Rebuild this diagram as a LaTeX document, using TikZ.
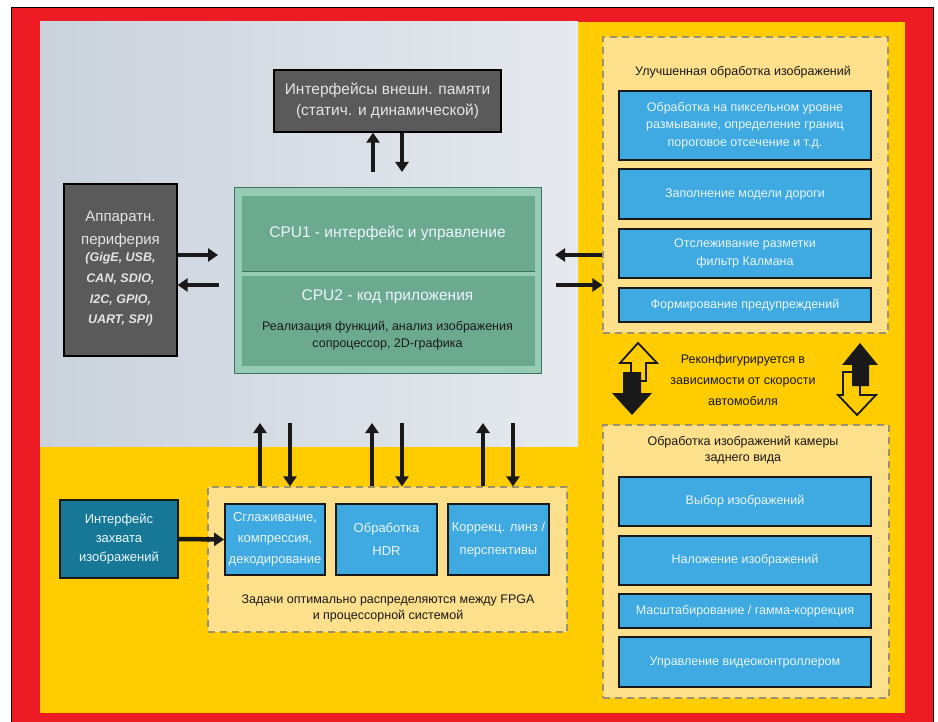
\documentclass[tikz,border=0pt]{standalone}
\usepackage{fontspec}
\setmainfont{Liberation Sans}
\usetikzlibrary{arrows.meta}
\definecolor{frameRed}{RGB}{237,28,36}
\definecolor{bgYellow}{RGB}{255,204,0}
\definecolor{panelFill}{RGB}{253,224,140}
\definecolor{panelLine}{RGB}{160,145,110}
\definecolor{boxBlue}{RGB}{62,170,225}
\definecolor{capTeal}{RGB}{22,120,150}
\definecolor{darkGray}{RGB}{90,90,90}
\definecolor{cpuGreen}{RGB}{108,170,144}
\definecolor{cpuLight}{RGB}{150,204,180}
\definecolor{cpuDark}{RGB}{60,115,92}
\definecolor{bgLeft}{RGB}{202,210,220}
\definecolor{bgMid}{RGB}{240,243,246}
\definecolor{bgRight}{RGB}{230,234,239}
\definecolor{inkDark}{RGB}{25,25,25}
\definecolor{lightText}{RGB}{228,228,228}
\definecolor{blueText}{RGB}{235,245,252}
\begin{document}
\begin{tikzpicture}[x=1pt,y=-1pt,
  grayBox/.style={draw=black,line width=1.3pt,fill=darkGray,text=lightText,align=center,inner sep=0pt},
  blueBox/.style={draw=inkDark,line width=1.8pt,fill=boxBlue,text=blueText,align=center,inner sep=0pt,font=\fontsize{12.5}{17.5}\selectfont},
  panel/.style={draw=panelLine,fill=panelFill,line width=1.2pt,dash pattern=on 7pt off 5pt,inner sep=0pt},
  arr/.style={draw=inkDark,line width=4.5pt,-{Triangle[width=13pt,length=10pt]}},
  darkText/.style={text=inkDark,align=center,font=\fontsize{12.5}{21}\selectfont},
  hollowArrow/.style={fill=bgYellow,draw=inkDark,line width=1.8pt,line join=miter},
  solidArrow/.style={fill=inkDark},
]
\useasboundingbox (0,0) rectangle (938,722);
\fill[white] (0,0) rectangle (938,722);
\fill[frameRed] (11,8) rectangle (933,722);
\draw[black,line width=1pt] (11,722) -- (11,8) -- (933,8) -- (933,722);
\fill[bgYellow] (40,22) rectangle (905,713);
\shade[left color=bgLeft,middle color=bgMid,right color=bgRight] (40,22) rectangle (578,446);

% memory interface
\node[grayBox,minimum width=227pt,minimum height=62pt,font=\fontsize{15.5}{21}\selectfont] (mem) at (387.5,101) {Интерфейсы внешн. памяти\\(статич. и динамической)};

% peripherals
\node[grayBox,minimum width=113pt,minimum height=172pt] (per) at (120.5,270) {};
\node[text=lightText,align=center,font=\fontsize{15}{23}\selectfont] (pert) at (120.5,229.5) {Аппаратн.\\периферия};
\node[text=lightText,align=center,font=\fontsize{12.5}{20.7}\selectfont\bfseries\itshape] (perl) at (120.5,289.5) {(GigE, USB,\\CAN, SDIO,\\I2C, GPIO,\\UART, SPI)};

% CPU block
\node[draw=cpuDark,line width=1pt,fill=cpuLight,minimum width=307pt,minimum height=185pt,inner sep=0pt] (cpu) at (387.5,280.5) {};
\fill[cpuGreen] (242,196) rectangle (535,271);
\fill[cpuGreen] (242,276) rectangle (535,366);
\draw[cpuDark,line width=0.8pt] (242,271.5) -- (535,271.5);
\node[text=blueText,font=\fontsize{15.5}{19}\selectfont] (c1) at (387.5,233) {CPU1 - интерфейс и управление};
\node[text=blueText,font=\fontsize{15.5}{19}\selectfont] (c2) at (387.5,297) {CPU2 - код приложения};
\node[text=inkDark,align=center,font=\fontsize{12.5}{17}\selectfont] (c3) at (387.5,335.5) {Реализация функций, анализ изображения\\сопроцессор, 2D-графика};

% enhanced processing panel
\node[panel,minimum width=285pt,minimum height=296pt] (enh) at (745.5,185) {};
\node[darkText] (enht) at (743,72) {Улучшенная обработка изображений};
\node[blueBox,minimum width=252pt,minimum height=69pt] (e1) at (745,125.5) {Обработка на пиксельном уровне\\размывание, определение границ\\пороговое отсечение и т.д.};
\node[blueBox,minimum width=252pt,minimum height=50pt] (e2) at (745,194) {Заполнение модели дороги};
\node[blueBox,minimum width=252pt,minimum height=49pt] (e3) at (745,253.5) {Отслеживание разметки\\фильтр Калмана};
\node[blueBox,minimum width=252pt,minimum height=34pt] (e4) at (745,305) {Формирование предупреждений};

% reconfiguration
\node[darkText] (rec) at (743,380.5) {Реконфигурируется в\\зависимости от скорости\\автомобиля};
\path[hollowArrow] (638,343) -- (657,363) -- (646,363) -- (646,381) -- (631,381) -- (631,363) -- (620,363) -- cycle;
\path[solidArrow] (623,372) -- (641,372) -- (641,393) -- (652,393) -- (632,415) -- (612,393) -- (623,393) -- cycle;
\path[hollowArrow] (843,372) -- (860,372) -- (860,395) -- (876,395) -- (857,415) -- (838,395) -- (843,395) -- cycle;
\path[solidArrow] (860,343) -- (878,365) -- (869,365) -- (869,386) -- (852,386) -- (852,365) -- (842,365) -- cycle;

% rear camera panel
\node[panel,minimum width=286pt,minimum height=273pt] (rear) at (746,561.5) {};
\node[text=inkDark,align=center,font=\fontsize{12.5}{16}\selectfont] (reart) at (743,450.5) {Обработка изображений камеры\\заднего вида};
\node[blueBox,minimum width=252pt,minimum height=49pt] (r1) at (745,501.5) {Выбор изображений};
\node[blueBox,minimum width=252pt,minimum height=49pt] (r2) at (745,560.5) {Наложение изображений};
\node[blueBox,minimum width=252pt,minimum height=34pt] (r3) at (745,611) {Масштабирование / гамма-коррекция};
\node[blueBox,minimum width=252pt,minimum height=50pt] (r4) at (745,662) {Управление видеоконтроллером};

% FPGA section
\node[panel,minimum width=359pt,minimum height=145pt] (fpga) at (387.5,559.5) {};
\node[draw=inkDark,line width=1.5pt,fill=capTeal,text=blueText,align=center,inner sep=0pt,minimum width=118pt,minimum height=78pt,font=\fontsize{13}{19}\selectfont] (cap) at (119,539) {Интерфейс\\захвата\\изображений};
\node[blueBox,minimum width=100pt,minimum height=71pt,font=\fontsize{13}{21}\selectfont] (s1) at (275,539.5) {Сглаживание,\\компрессия,\\декодирование};
\node[blueBox,minimum width=101pt,minimum height=71pt,font=\fontsize{13}{23}\selectfont] (s2) at (386.5,539.5) {Обработка\\HDR};
\node[blueBox,minimum width=101pt,minimum height=71pt,font=\fontsize{13}{23}\selectfont] (s3) at (498.5,539.5) {Коррекц. линз /\\перспективы};
\node[text=inkDark,align=center,font=\fontsize{12.5}{16}\selectfont] (fcap) at (388,608) {Задачи оптимально распределяются между FPGA\\и процессорной системой};

% connectors
\coordinate (mU) at (373,172);
\coordinate (mD) at (402,172);
\draw[arr] (mU) -- (mU |- mem.south);
\draw[arr] (mD |- mem.south) -- (mD);

\coordinate (pR) at (218,255);
\coordinate (pL) at (219,285);
\draw[arr] (pR -| per.east) -- (pR);
\draw[arr] (pL) -- (pL -| per.east);

\coordinate (qL) at (555,255);
\coordinate (qR) at (556,285);
\draw[arr] (qL -| enh.west) -- (qL);
\draw[arr] (qR) -- (qR -| enh.west);

\coordinate (b1) at (260,423);
\coordinate (b2) at (290,423);
\coordinate (b3) at (372,423);
\coordinate (b4) at (402,423);
\coordinate (b5) at (483,423);
\coordinate (b6) at (513,423);
\draw[arr] (b1 |- fpga.north) -- (b1);
\draw[arr] (b2) -- (b2 |- fpga.north);
\draw[arr] (b3 |- fpga.north) -- (b3);
\draw[arr] (b4) -- (b4 |- fpga.north);
\draw[arr] (b5 |- fpga.north) -- (b5);
\draw[arr] (b6) -- (b6 |- fpga.north);

\draw[arr] (cap.east) -- (s1.west);
\end{tikzpicture}
\end{document}
